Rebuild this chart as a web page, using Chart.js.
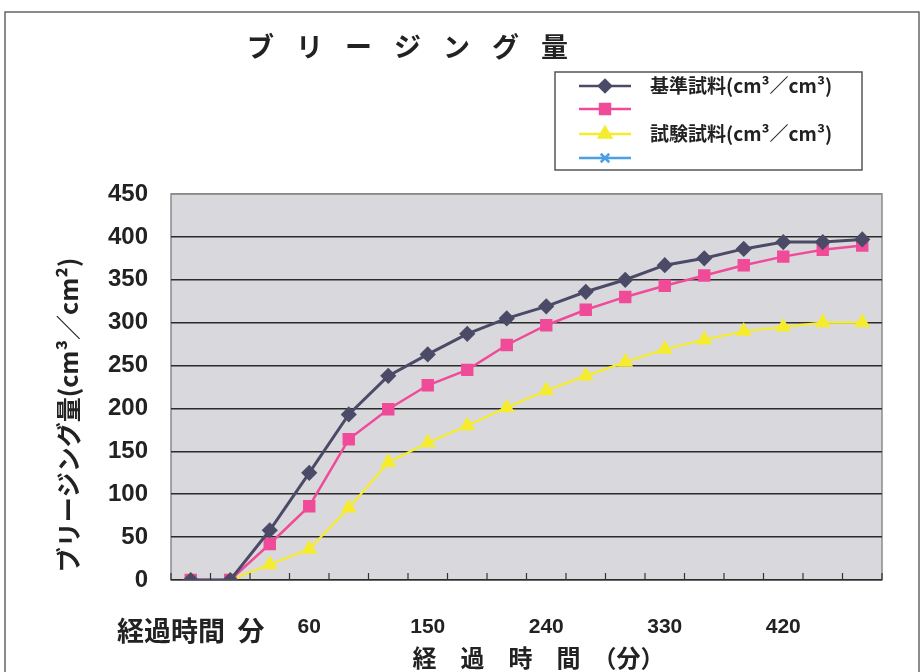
<!DOCTYPE html>
<html><head><meta charset="utf-8">
<script src="https://cdn.jsdelivr.net/npm/chart.js@4/dist/chart.umd.min.js"></script>
<style>html,body{margin:0;padding:0;background:#fff}#wrap{width:922px;height:672px}</style>
</head><body><div id="wrap"><canvas id="c" width="922" height="672"></canvas></div>
<script>
const chartTitle = 'ブリージング量';
const xAxisTitle = '　経　過　時　間　（分）';
const yAxisTitle = 'ブリージング量(cm³／cm²)';
const categories = ['経過時間  分','','','60','','','150','','','240','','','330','','','420','',''];
const seriesNames = ['基準試料(cm³／cm³)','','試験試料(cm³／cm³)',''];
const standardSample = [0,0,58,125,193,238,263,287,305,319,336,350,367,375,386,394,394,397];
const pinkSeries = [0,0,42,86,164,199,227,245,274,297,315,330,343,355,367,377,385,390];
const testSample = [0,0,18,36,84,137,160,180,201,221,238,254,269,280,290,295,300,300];
const blueSeries = [];
const yTicks = {min:0, max:450, step:50};

const CJK = '"Noto Sans CJK JP", sans-serif';
const NUM = '"Liberation Sans", Arial, sans-serif';

const framePlugin = {
  id:'frame',
  beforeDraw(chart){
    const {ctx, chartArea:a} = chart;
    ctx.save();
    ctx.strokeStyle='#666'; ctx.lineWidth=1.5;
    ctx.strokeRect(5,12,914,700);
    ctx.fillStyle='#d9d9dd';
    ctx.fillRect(a.left,a.top,a.right-a.left,a.bottom-a.top);
    ctx.strokeStyle='#8a8a8a'; ctx.lineWidth=1.5;
    ctx.strokeRect(a.left,a.top,a.right-a.left,a.bottom-a.top);
    ctx.restore();
  },
  afterDraw(chart){
    const {ctx, chartArea:a} = chart;
    const xs = chart.scales.x;
    ctx.save();
    ctx.strokeStyle='#333'; ctx.lineWidth=1.2;
    const n = categories.length;
    for(let i=0;i<=n;i++){
      const x = xs.getPixelForValue(i-0.5);
      ctx.beginPath(); ctx.moveTo(x,a.bottom); ctx.lineTo(x,a.bottom-7); ctx.stroke();
    }
    ctx.fillStyle='#222';
    ctx.font='bold 27px '+CJK;
    ctx.textBaseline='middle'; ctx.textAlign='left';
    ctx.letterSpacing='22px';
    ctx.fillText(chartTitle,247,47);
    ctx.letterSpacing='0px';
    ctx.save();
    ctx.translate(68,415); ctx.rotate(-Math.PI/2);
    ctx.font='bold 25px '+CJK; ctx.textAlign='center'; ctx.textBaseline='middle';
    ctx.fillText(yAxisTitle,0,0);
    ctx.restore();
    const bx=555,by=72,bw=307,bh=98;
    ctx.fillStyle='#fff'; ctx.fillRect(bx,by,bw,bh);
    ctx.strokeStyle='#555'; ctx.lineWidth=1.5; ctx.strokeRect(bx,by,bw,bh);
    const rows=[86,109,134,158];
    chart.data.datasets.forEach((ds,i)=>{
      const y=rows[i];
      ctx.strokeStyle=ds.borderColor; ctx.lineWidth=2.5;
      ctx.beginPath(); ctx.moveTo(579,y); ctx.lineTo(631,y); ctx.stroke();
      Chart.helpers.drawPoint(ctx,{pointStyle:ds.pointStyle,radius:ds.pointRadius,rotation:0,borderWidth:ds.pointBorderWidth||1},605,y);
      if(ds.pointStyle!=='crossRot'){ctx.fillStyle=ds.pointBackgroundColor; ctx.fill();}
      if(ds.label){
        ctx.fillStyle='#222'; ctx.font='bold 19px '+CJK; ctx.textAlign='left'; ctx.textBaseline='middle';
        ctx.fillText(ds.label,650,y);
      }
    });
    ctx.restore();
  }
};

new Chart(document.getElementById('c'),{
  type:'line',
  data:{
    labels:categories,
    datasets:[
      {label:seriesNames[0],data:standardSample,borderColor:'#4b4b68',backgroundColor:'#4b4b68',pointBackgroundColor:'#4b4b68',pointBorderColor:'#4b4b68',pointStyle:'rectRot',pointRadius:6,borderWidth:3},
      {label:seriesNames[1],data:pinkSeries,borderColor:'#f04b98',backgroundColor:'#f04b98',pointBackgroundColor:'#f04b98',pointBorderColor:'#f04b98',pointStyle:'rect',pointRadius:7,borderWidth:2.5},
      {label:seriesNames[2],data:testSample,borderColor:'#f5ec2e',backgroundColor:'#f5ec2e',pointBackgroundColor:'#f5ec2e',pointBorderColor:'#f5ec2e',pointStyle:'triangle',pointRadius:7,borderWidth:2.2},
      {label:seriesNames[3],data:blueSeries,borderColor:'#4a9fe8',backgroundColor:'#4a9fe8',pointBackgroundColor:'#4a9fe8',pointBorderColor:'#4a9fe8',pointStyle:'crossRot',pointRadius:6,borderWidth:2.5,pointBorderWidth:2.5}
    ]
  },
  options:{
    responsive:false, animation:false,
    layout:{padding:{left:0,right:40,top:194,bottom:0}},
    plugins:{legend:{display:false},title:{display:false},tooltip:{enabled:false}},
    scales:{
      x:{
        offset:true,
        grid:{display:false,drawTicks:false},
        border:{display:false},
        afterFit(s){s.height=92;},
        ticks:{autoSkip:false,maxRotation:0,padding:35,color:'#222',
          font:(c)=> c.index===0 ? {family:CJK,size:27,weight:'bold'} : {family:NUM,size:21,weight:'bold'}},
        title:{display:true,text:xAxisTitle,color:'#222',font:{family:CJK,size:24,weight:'bold'},padding:{top:0,bottom:0}}
      },
      y:{
        min:yTicks.min,max:yTicks.max,
        afterFit(s){s.width=171;},
        grid:{drawTicks:false,color:(c)=> c.tick && c.tick.value===yTicks.max ? '#8a8a8a' : '#2b2b2b',lineWidth:1.5},
        border:{display:false},
        ticks:{stepSize:yTicks.step,padding:23,color:'#222',font:{family:NUM,size:24,weight:'bold'}}
      }
    }
  },
  plugins:[framePlugin]
});
</script></body></html>
